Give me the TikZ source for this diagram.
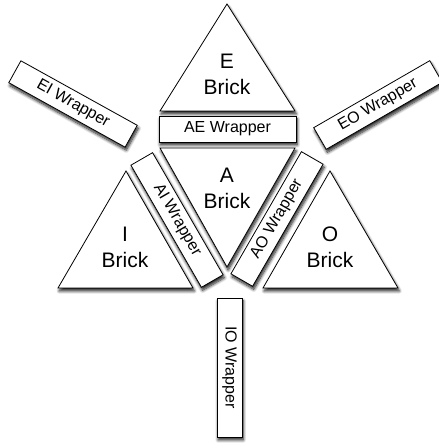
\documentclass[tikz,border=0pt]{standalone}
\usepackage{fontspec}
\setmainfont{Liberation Sans}
\usetikzlibrary{shadows.blur}

\begin{document}
\begin{tikzpicture}[x=1pt, y=1pt,
    soft shadow/.style={blur shadow={shadow xshift=1.2pt, shadow yshift=-3pt,
        shadow blur radius=3pt, shadow blur steps=8, shadow opacity=90}},
    brick/.style={draw=black, fill=white, line width=0.8pt, soft shadow},
    brick label/.style={font=\fontsize{21}{26}\selectfont, align=center},
    wrapper/.style={draw=black, fill=white, line width=0.8pt, soft shadow,
        minimum width=136pt, minimum height=25pt, inner sep=0pt,
        font=\fontsize{16}{19}\selectfont}]
    \useasboundingbox (0,0) rectangle (439,448);

    % bricks
    \draw[brick] (227,444) -- (295,337) -- (160,337) -- cycle;
    \node[brick label] (e brick) at (227,374) {E\\Brick};
    \draw[brick] (160,300) -- (295,300) -- (227,181) -- cycle;
    \node[brick label] (a brick) at (227,260) {A\\Brick};
    \draw[brick] (126,277) -- (193,160) -- (58,160) -- cycle;
    \node[brick label] (i brick) at (125,201) {I\\Brick};
    \draw[brick] (330,277) -- (398,160) -- (263,160) -- cycle;
    \node[brick label] (o brick) at (330,201) {O\\Brick};

    % wrappers
    \node[wrapper, minimum width=137pt, minimum height=26pt]
        (ae wrapper) at (227.5,319) {AE Wrapper};
    \node[wrapper, rotate=-60, minimum width=141pt]
        (ai wrapper) at (177,228) {AI Wrapper};
    \node[wrapper, rotate=60, minimum width=141pt]
        (ao wrapper) at (277,229) {AO Wrapper};
    \node[wrapper, rotate=-29, minimum width=133pt]
        (ei wrapper) at (73,344) {EI Wrapper};
    \node[wrapper, rotate=30, minimum width=134pt]
        (eo wrapper) at (378,343) {EO Wrapper};
    \node[wrapper, rotate=-90, minimum width=139pt]
        (io wrapper) at (229.5,80.5) {IO Wrapper};
\end{tikzpicture}
\end{document}
